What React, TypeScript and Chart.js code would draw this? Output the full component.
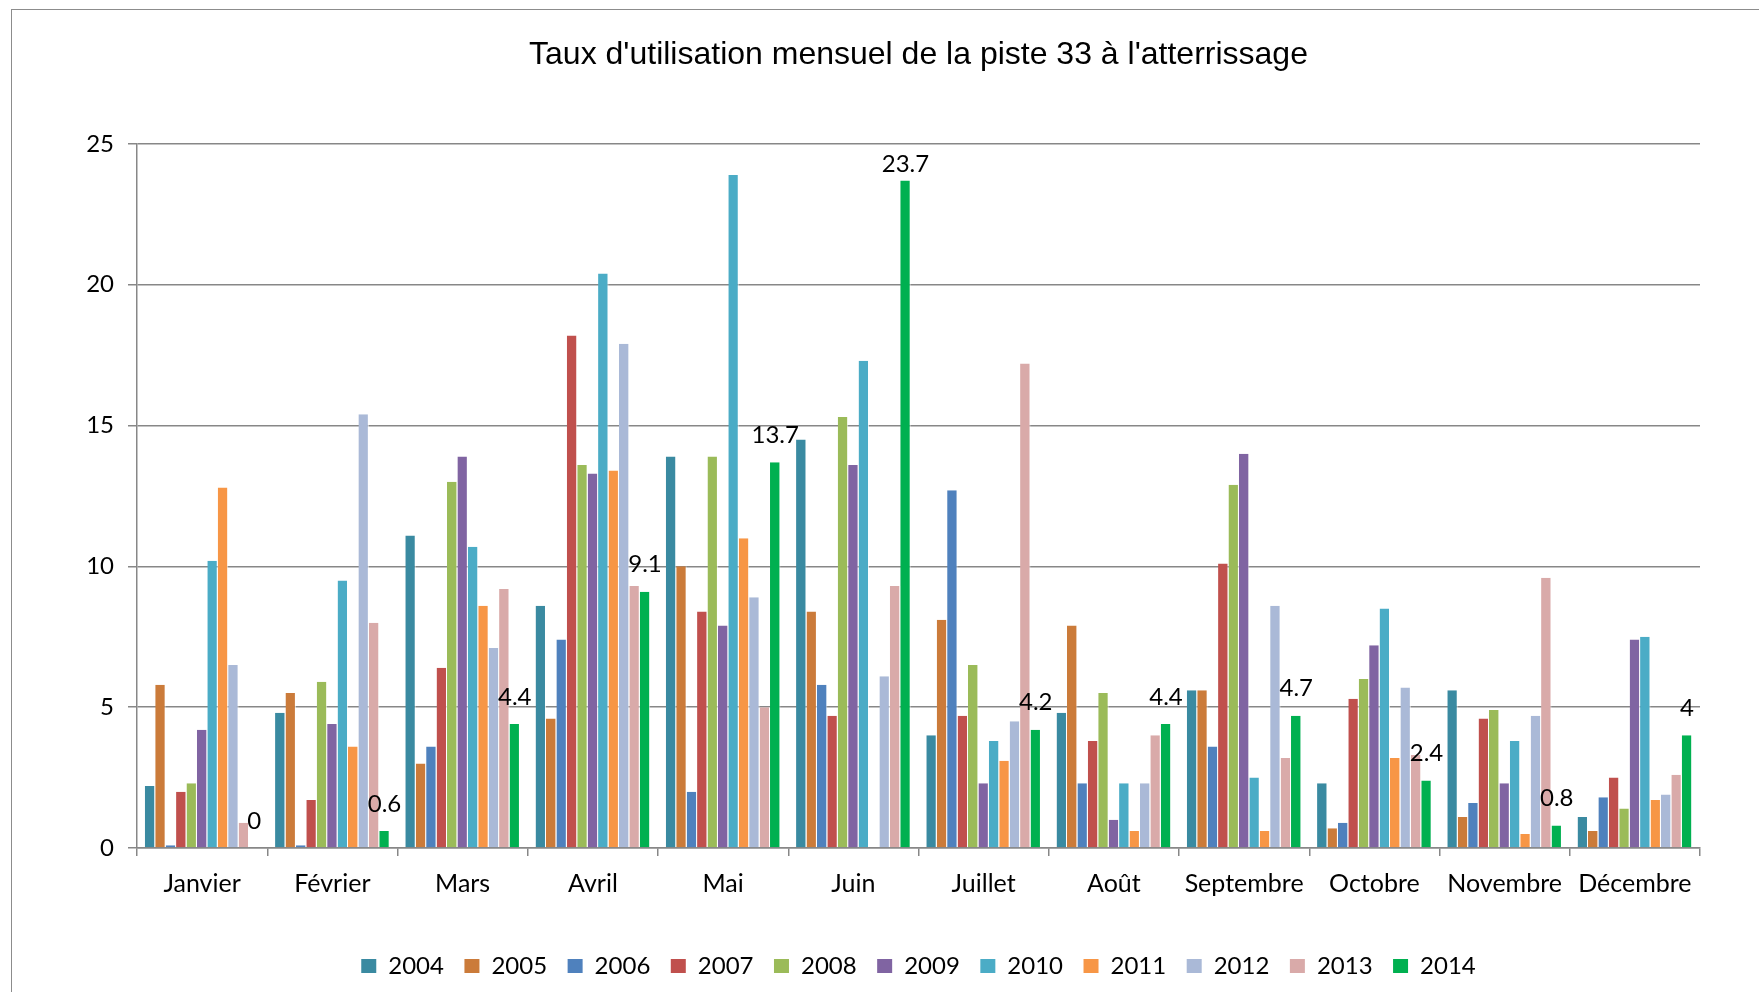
import React, { useEffect, useRef } from "react";
import { Chart, registerables } from "chart.js";
Chart.register(...registerables);

const chartTitle = "Taux d'utilisation mensuel de la piste 33 à l'atterrissage";
const months = ["Janvier", "Février", "Mars", "Avril", "Mai", "Juin", "Juillet", "Août", "Septembre", "Octobre", "Novembre", "Décembre"];
const years = ["2004", "2005", "2006", "2007", "2008", "2009", "2010", "2011", "2012", "2013", "2014"];
const yTicks = [0, 5, 10, 15, 20, 25];

const y2004 = [2.2, 4.8, 11.1, 8.6, 13.9, 14.5, 4.0, 4.8, 5.6, 2.3, 5.6, 1.1];
const y2005 = [5.8, 5.5, 3.0, 4.6, 10.0, 8.4, 8.1, 7.9, 5.6, 0.7, 1.1, 0.6];
const y2006 = [0.1, 0.1, 3.6, 7.4, 2.0, 5.8, 12.7, 2.3, 3.6, 0.9, 1.6, 1.8];
const y2007 = [2.0, 1.7, 6.4, 18.2, 8.4, 4.7, 4.7, 3.8, 10.1, 5.3, 4.6, 2.5];
const y2008 = [2.3, 5.9, 13.0, 13.6, 13.9, 15.3, 6.5, 5.5, 12.9, 6.0, 4.9, 1.4];
const y2009 = [4.2, 4.4, 13.9, 13.3, 7.9, 13.6, 2.3, 1.0, 14.0, 7.2, 2.3, 7.4];
const y2010 = [10.2, 9.5, 10.7, 20.4, 23.9, 17.3, 3.8, 2.3, 2.5, 8.5, 3.8, 7.5];
const y2011 = [12.8, 3.6, 8.6, 13.4, 11.0, 0, 3.1, 0.6, 0.6, 3.2, 0.5, 1.7];
const y2012 = [6.5, 15.4, 7.1, 17.9, 8.9, 6.1, 4.5, 2.3, 8.6, 5.7, 4.7, 1.9];
const y2013 = [0.9, 8.0, 9.2, 9.3, 5.0, 9.3, 17.2, 4.0, 3.2, 3.3, 9.6, 2.6];
const y2014 = [0, 0.6, 4.4, 9.1, 13.7, 23.7, 4.2, 4.4, 4.7, 2.4, 0.8, 4.0];

const seriesValues = [y2004, y2005, y2006, y2007, y2008, y2009, y2010, y2011, y2012, y2013, y2014];
const seriesColors = ["#3A8AA1", "#CB7B3A", "#4F81BD", "#C0504D", "#9BBB59", "#8064A2", "#4BACC6", "#F79646", "#AAB9D7", "#D9AAA9", "#00B050"];

const GRID = "#878787";
const LABEL_FONT = "Lato";

const labelPlugin = {
  id: "lastSeriesLabels",
  afterDatasetsDraw(chart: any) {
    const idx = seriesValues.length - 1;
    const meta = chart.getDatasetMeta(idx);
    const ctx = chart.ctx;
    ctx.save();
    ctx.font = `24px ${LABEL_FONT}`;
    ctx.fillStyle = "#000";
    ctx.textAlign = "center";
    ctx.textBaseline = "middle";
    meta.data.forEach((bar: any, i: number) => {
      const v = seriesValues[idx][i];
      let y = bar.y - 27;
      y = Math.max(y, chart.chartArea.top + 20);
      ctx.fillText(String(v), bar.x, y);
    });
    ctx.restore();
  },
};

export default function App() {
  const ref = useRef<HTMLCanvasElement | null>(null);
  useEffect(() => {
    if (!ref.current) return;
    const chart = new Chart(ref.current, {
      type: "bar",
      data: {
        labels: months,
        datasets: years.map((yr, i) => ({
          label: yr,
          data: seriesValues[i],
          backgroundColor: seriesColors[i],
          borderColor: "rgba(255,255,255,0.7)",
          borderWidth: { top: 0, right: 1, bottom: 0, left: 0 },
          borderSkipped: false,
          categoryPercentage: 0.88,
          barPercentage: 1,
        })),
      },
      options: {
        animation: false,
        responsive: false,
        devicePixelRatio: 1,
        layout: { padding: { left: 0, right: 59, top: 0, bottom: 4 } },
        plugins: {
          title: {
            display: true,
            text: chartTitle,
            fullSize: false,
            color: "#000",
            font: { family: "Liberation Sans", size: 32, weight: "normal" },
            padding: { top: 36, bottom: 69.5 },
          },
          legend: {
            display: true,
            position: "bottom",
            fullSize: false,
            labels: {
              boxWidth: 15,
              boxHeight: 14,
              padding: 20.5,
              color: "#000",
              font: { family: LABEL_FONT, size: 24 },
              generateLabels: (c: any) =>
                Chart.defaults.plugins.legend.labels.generateLabels(c).map((l: any) => ({ ...l, lineWidth: 0 })),
            },
          },
          tooltip: { enabled: false },
        },
        scales: {
          x: {
            afterFit: (s: any) => {
              s.height = 85.5;
            },
            grid: { display: true, drawOnChartArea: false, drawTicks: true, tickLength: 8, color: GRID, lineWidth: 1.5 },
            border: { display: true, color: GRID, width: 1.5 },
            ticks: { color: "#000", font: { family: LABEL_FONT, size: 25 }, padding: 13, maxRotation: 0, autoSkip: false },
          },
          y: {
            min: 0,
            max: 25,
            afterFit: (s: any) => {
              s.width = 137;
            },
            afterBuildTicks: (s: any) => {
              s.ticks = yTicks.map((v) => ({ value: v }));
            },
            grid: { color: GRID, lineWidth: 1.5, drawTicks: true, tickLength: 9 },
            border: { display: true, color: GRID, width: 1.5 },
            ticks: { color: "#000", font: { family: LABEL_FONT, size: 24 }, padding: 14 },
          },
        },
      },
      plugins: [labelPlugin],
    } as any);
    return () => chart.destroy();
  }, []);

  return (
    <div style={{ position: "absolute", left: 0, top: 0, width: 1759, height: 992, overflow: "hidden", background: "#fff" }}>
      <canvas ref={ref} width={1759} height={992} style={{ position: "absolute", left: 0, top: 0, width: 1759, height: 992 }} />
      <div
        style={{
          position: "absolute",
          left: 11,
          top: 9,
          width: 1800,
          height: 1100,
          border: "1px solid #8C8C8C",
          pointerEvents: "none",
        }}
      />
    </div>
  );
}
